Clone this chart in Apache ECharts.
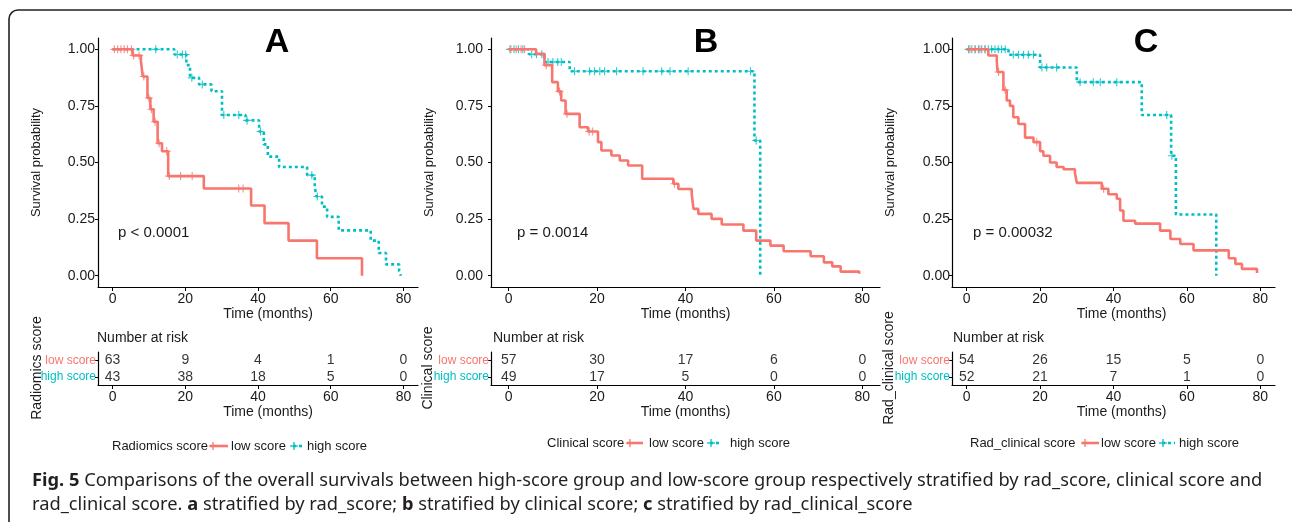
<!DOCTYPE html>
<html>
<head>
<meta charset="utf-8">
<title>Fig. 5 Kaplan-Meier curves</title>
<script src="https://cdn.jsdelivr.net/npm/echarts@6.0.0/dist/echarts.min.js"></script>
<style>
  html, body { margin: 0; padding: 0; background: #fff; }
  #chart { width: 1292px; height: 522px; }
</style>
</head>
<body>
<div id="chart"></div>
<script>
// ---- data ----
const timeTicks = [0, 20, 40, 60, 80];
const survTicks = [0, 0.25, 0.5, 0.75, 1];
const groups = ['low score', 'high score'];

// A: radiomics score  ([time, survival] after each step)
const aLowSteps = [[0,1],[5.5,0.973],[7.8,0.95],[8.3,0.88],[9.6,0.785],[10.4,0.735],[11.3,0.68],[12.4,0.585],[13.6,0.55],[15.3,0.44],[25.1,0.385],[38.1,0.31],[41.8,0.232],[48.4,0.155],[56.2,0.077],[68.6,0]];
const aLowCensor = [0.5,1.4,2.3,3.2,4.1,5.2,5.8,7.3,8.6,10.0,10.7,11.7,12.8,14.9,15.6,18.7,21.9,34.7,35.9];
const aHighSteps = [[0,1],[17,0.977],[20.3,0.93],[21.3,0.874],[23.8,0.845],[27.2,0.815],[30.1,0.71],[36.6,0.686],[40.3,0.637],[41.6,0.58],[42.7,0.526],[45.8,0.48],[53.5,0.444],[55.6,0.39],[56.1,0.35],[57.6,0.305],[59,0.26],[62.2,0.2],[71,0.155],[73.2,0.1],[75.2,0.05],[78.8,0.02],[79.3,0]];
const aHighCensor = [11.9,17.8,19.2,20.1,21.8,24.7,30.6,34.7,37.0,40.7,54.8,56.3];
const aRiskLow = [63, 9, 4, 1, 0];
const aRiskHigh = [43, 38, 18, 5, 0];

// B: clinical score
const bLowSteps = [[0,1],[6.2,0.98],[8.1,0.93],[9.84,0.855],[11.13,0.814],[11.88,0.774],[12.87,0.715],[16.05,0.656],[17.94,0.637],[20.2,0.59],[20.97,0.553],[23.24,0.531],[25.13,0.509],[27.02,0.487],[30.2,0.428],[37.24,0.406],[38.38,0.383],[41.4,0.361],[41.8,0.295],[42.9,0.273],[45.9,0.251],[48.2,0.226],[53.1,0.199],[56.0,0.155],[59.2,0.133],[62.2,0.108],[68.3,0.086],[71.3,0.059],[73.2,0.041],[75.1,0.018],[79.3,0.008]];
const bLowCensor = [0.5,1.7,2.8,3.6,8.5,11.5,13.2,18.2,19.0,37.5];
const bHighSteps = [[0,1],[4.6,0.978],[8.1,0.944],[13.8,0.903],[55.6,0.597],[56.9,0]];
const bHighCensor = [0.3,1.2,2.2,3.2,5.2,6.3,7.5,8.9,10.0,11.1,11.9,14.9,18.3,19.4,20.6,21.7,24.4,30.4,34.6,36.5,40.6,54.7,56.0];
const bRiskLow = [57, 30, 17, 6, 0];
const bRiskHigh = [49, 17, 5, 0, 0];

// C: rad_clinical score
const cLowSteps = [[0,1],[5.9,0.973],[8.2,0.95],[8.4,0.9],[10,0.82],[10.9,0.774],[11.8,0.75],[12.7,0.7],[14.1,0.67],[15.9,0.61],[18.2,0.59],[20,0.55],[20.9,0.53],[22.7,0.5],[24.5,0.48],[26.4,0.47],[29.5,0.454],[30,0.41],[36.8,0.384],[38.6,0.36],[40.9,0.34],[41.8,0.288],[42.7,0.243],[45.9,0.23],[52.7,0.199],[55.5,0.162],[58.2,0.14],[61.8,0.112],[71.4,0.077],[73.2,0.052],[75,0.03],[79.1,0.012]];
const cLowCensor = [0.9,2.3,3.6,5.0,8.7,10.5,19.1,37.3];
const cHighSteps = [[0,1],[11.4,0.976],[20,0.92],[30,0.855],[47.7,0.71],[55.7,0.53],[57.0,0.27],[68,0]];
const cHighCensor = [0.5,1.4,2.3,3.2,4.1,5.0,5.9,6.8,7.7,8.6,9.5,10.5,12.7,14.1,15.5,16.8,18.2,20.5,21.8,24.5,30.9,34.5,36.4,40.9,54.5,55.9];
const cRiskLow = [54, 26, 15, 5, 0];
const cRiskHigh = [52, 21, 7, 1, 0];

const strataNames = ['Radiomics score', 'Clinical score', 'Rad_clinical score'];
const panelLetters = ['A', 'B', 'C'];
const pValues = ['p < 0.0001', 'p = 0.0014', 'p = 0.00032'];

// ---- styling / layout ----
const RED = '#F8766D';
const CYAN = '#00BFC4';
const FONT = 'Liberation Sans';
const TXT = '#1a1a1a';

const panels = [
  { low: aLowSteps, lowC: aLowCensor, high: aHighSteps, highC: aHighCensor, rLow: aRiskLow, rHigh: aRiskHigh },
  { low: bLowSteps, lowC: bLowCensor, high: bHighSteps, highC: bHighCensor, rLow: bRiskLow, rHigh: bRiskHigh },
  { low: cLowSteps, lowC: cLowCensor, high: cHighSteps, highC: cHighCensor, rLow: cRiskLow, rHigh: cRiskHigh }
];
const boxes = [
  { left: 98, width: 320, ylabMargin: 3, shift: 20, letterX: 277, pX: 118, nX: 97, legY: 446, stratX: 37,
    leg: [112, 210, 228, 231, 293, 305, 307] },
  { left: 491, width: 389, ylabMargin: 8, shift: 0, letterX: 706, pX: 517, nX: 493, legY: 443, stratX: 428,
    leg: [547, 627, 643, 649, 710, 720, 730] },
  { left: 952, width: 323, ylabMargin: 2, shift: 16, letterX: 1146, pX: 973, nX: 953, legY: 443, stratX: 889,
    leg: [970, 1082, 1099, 1101, 1162, 1175, 1179] }
];

const plus = 'path://M4.3,0H5.7V4.3H10V5.7H5.7V10H4.3V5.7H0V4.3H4.3Z';

function survAt(steps, t) {
  let s = steps[0][1];
  for (const [x, y] of steps) { if (x <= t) s = y; }
  return s;
}

const grids = [], xAxes = [], yAxes = [], series = [], graphics = [];

function timeAxis(gridIndex, box, nameGap) {
  return {
    gridIndex, type: 'value', min: -4, max: 84,
    axisLine: { show: true, onZero: false, lineStyle: { color: '#000', width: 1.2 } },
    axisTick: { show: true, customValues: timeTicks, length: 4, lineStyle: { color: '#000' } },
    axisLabel: { customValues: timeTicks, fontSize: 14, color: TXT, margin: 5, fontFamily: FONT },
    splitLine: { show: false },
    name: 'Time (months)', nameLocation: 'middle', nameGap,
    nameTextStyle: { fontSize: 14, color: TXT, fontFamily: FONT, padding: [0, 0, 0, box.shift] }
  };
}

boxes.forEach((box, i) => {
  grids.push({ left: box.left, width: box.width, top: 38, height: 249 });
  xAxes.push(timeAxis(i, box, 20));
  yAxes.push({
    gridIndex: i, type: 'value', min: -0.05, max: 1.05,
    axisLine: { show: true, onZero: false, lineStyle: { color: '#000', width: 1.2 } },
    axisTick: { show: true, customValues: survTicks, length: 3, lineStyle: { color: '#000' } },
    axisLabel: { customValues: survTicks, fontSize: 14, color: TXT, margin: box.ylabMargin, fontFamily: FONT,
      formatter: v => Number(v).toFixed(2) },
    splitLine: { show: false },
    name: 'Survival probability', nameLocation: 'middle', nameGap: 55,
    nameTextStyle: { fontSize: 13, color: TXT, fontFamily: FONT }
  });
});

boxes.forEach((box, i) => {
  grids.push({ left: box.left, width: box.width, top: 352, height: 33 });
  xAxes.push(timeAxis(i + 3, box, 20));
  yAxes.push({
    gridIndex: i + 3, type: 'category', data: groups, inverse: true,
    axisLine: { show: true, onZero: false, lineStyle: { color: '#000', width: 1.2 } },
    axisTick: { show: true, alignWithLabel: true, length: 3, lineStyle: { color: '#000' } },
    axisLabel: { fontSize: 12, margin: 2, fontFamily: FONT,
      color: v => (v === 'low score' ? RED : CYAN) }
  });
});

panels.forEach((p, i) => {
  const curves = [
    { name: 'high score', steps: p.high, cens: p.highC, color: CYAN, type: [3, 3] },
    { name: 'low score', steps: p.low, cens: p.lowC, color: RED, type: 'solid' }
  ];
  curves.forEach(c => {
    series.push({
      type: 'line', name: c.name, xAxisIndex: i, yAxisIndex: i, data: c.steps, step: 'end',
      showSymbol: false, silent: true,
      lineStyle: { color: c.color, width: 2.6, type: c.type, cap: 'butt' }
    });
    series.push({
      type: 'scatter', name: c.name, xAxisIndex: i, yAxisIndex: i, symbol: plus, symbolSize: 8,
      data: c.cens.map(t => [t, survAt(c.steps, t)]), itemStyle: { color: c.color }, silent: true
    });
  });
  const riskRows = [['low score', p.rLow], ['high score', p.rHigh]];
  riskRows.forEach(([g, vals]) => {
    series.push({
      type: 'scatter', xAxisIndex: i + 3, yAxisIndex: i + 3, symbolSize: 1,
      itemStyle: { color: 'rgba(0,0,0,0)' }, silent: true,
      data: timeTicks.map((t, k) => [t, g, vals[k]]),
      label: { show: true, position: 'inside', formatter: q => q.value[2], fontSize: 14,
        color: '#000', fontFamily: FONT }
    });
  });
});

function txt(x, y, text, style) {
  return { type: 'text', x, y, silent: true,
    style: Object.assign({ text, fontFamily: FONT, fontSize: 14, fill: TXT, align: 'left', verticalAlign: 'middle' }, style) };
}
function seg(x1, y1, x2, y2, color, w, dash) {
  return { type: 'line', silent: true, shape: { x1, y1, x2, y2 },
    style: { stroke: color, lineWidth: w, lineDash: dash || null } };
}

boxes.forEach((box, i) => {
  graphics.push(txt(box.letterX, 43, panelLetters[i], { fontSize: 34, fontWeight: 'bold', fill: '#000', align: 'center' }));
  graphics.push(txt(box.pX, 233, pValues[i], { fontSize: 15 }));
  graphics.push(txt(box.nX, 338, 'Number at risk', { fontSize: 14 }));
  // strata title of the risk table, rotated
  graphics.push(Object.assign(txt(box.stratX, 368, strataNames[i], { fontSize: 14, align: 'center' }), { rotation: Math.PI / 2 }));
  const [tx, r1, r2, lowX, b1, b2, highX] = box.leg;
  const y = box.legY;
  graphics.push(txt(tx, y, strataNames[i], { fontSize: 13 }));
  graphics.push(seg(r1, y, r2, y, RED, 2.6));
  graphics.push(seg(r1 + 3, y - 4, r1 + 3, y + 4, RED, 1.3));
  graphics.push(seg(r1 - 1, y, r1 + 7, y, RED, 1.3));
  graphics.push(txt(lowX, y, 'low score', { fontSize: 13 }));
  graphics.push(seg(b1, y, b2, y, CYAN, 2.6, [3, 3]));
  graphics.push(seg(b1 + 1, y - 4, b1 + 1, y + 4, CYAN, 1.3));
  graphics.push(seg(b1 - 3, y, b1 + 5, y, CYAN, 1.3));
  graphics.push(txt(highX, y, 'high score', { fontSize: 13 }));
});

// figure frame and caption
const CAP = { fontFamily: 'Noto Sans', fontSize: 18.3, fill: '#231f20' };
graphics.push({ type: 'rect', silent: true, shape: { x: 9, y: 10, width: 1292, height: 540, r: 9 },
  style: { fill: 'none', stroke: '#222', lineWidth: 1.6 } });
graphics.push(txt(32, 481, '{b|Fig. 5} Comparisons of the overall survivals between high-score group and low-score group respectively stratified by rad_score, clinical score and',
  Object.assign({}, CAP, { rich: { b: Object.assign({ fontWeight: 'bold' }, CAP) } })));
graphics.push(txt(32, 505, 'rad_clinical score. {b|a} stratified by rad_score; {b|b} stratified by clinical score; {b|c} stratified by rad_clinical_score',
  Object.assign({}, CAP, { rich: { b: Object.assign({ fontWeight: 'bold' }, CAP) } })));

const chart = echarts.init(document.getElementById('chart'), null, { renderer: 'canvas' });
chart.setOption({
  animation: false,
  backgroundColor: '#fff',
  grid: grids,
  xAxis: xAxes,
  yAxis: yAxes,
  series: series,
  graphic: { elements: graphics }
});
</script>
</body>
</html>
